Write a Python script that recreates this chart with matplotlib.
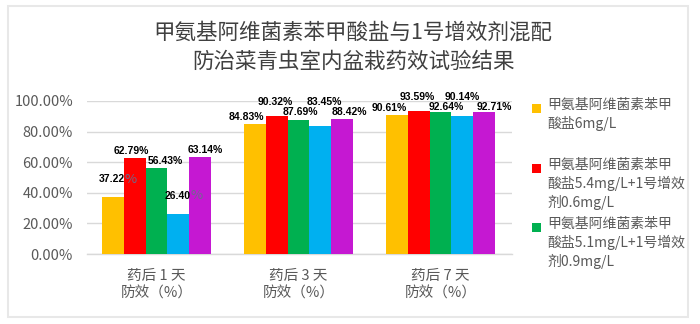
import numpy as np
import matplotlib
matplotlib.use('Agg')
import matplotlib.pyplot as plt
import matplotlib.patches as patches

plt.rcParams['font.family'] = ['Noto Sans CJK SC', 'DejaVu Sans']

title = "甲氨基阿维菌素苯甲酸盐与1号增效剂混配\n防治菜青虫室内盆栽药效试验结果"
groups = ["药后 1 天\n防效（%）", "药后 3 天\n防效（%）", "药后 7 天\n防效（%）"]
series_labels = [
    "甲氨基阿维菌素苯甲\n酸盐6mg/L",
    "甲氨基阿维菌素苯甲\n酸盐5.4mg/L+1号增效\n剂0.6mg/L",
    "甲氨基阿维菌素苯甲\n酸盐5.1mg/L+1号增效\n剂0.9mg/L",
]
colors = ["#FFC000", "#FF0000", "#00B050", "#00B0F0", "#C518D2"]

# control efficacy (%) per treatment, one row per series
values = [
    [37.22, 84.83, 90.61],
    [62.79, 90.32, 93.59],
    [56.43, 87.69, 92.64],
    [26.40, 83.45, 90.14],
    [63.14, 88.42, 92.71],
]

# label nudges in pixels (dx, dy) relative to the bar top centre
label_offsets = [
    [(2, 18), (-9, 7), (-8, 7)],
    [(-3, 7), (-2, 14), (-2, 14)],
    [(9, 7), (2, 8), (6, 5)],
    [(2, 18), (4, 24), (0, 19)],
    [(5, 7), (7, 7), (10, 5)],
]
# labels whose "%" sign was rendered separately
split_pct = {(0, 0), (3, 0)}

W, H = 700, 324
fig = plt.figure(figsize=(W / 100, H / 100), dpi=100)
fig.patch.set_facecolor('white')

# light frame round the chart
fig.patches.append(patches.Rectangle((8 / W, 1 - 317 / H), 680 / W, 311 / H,
                                     transform=fig.transFigure, fill=False,
                                     edgecolor='#E8E8E8', linewidth=1.5))

ax = fig.add_axes([87 / W, 1 - 254 / H, 425 / W, 153 / H])
n = len(values)
x = np.arange(len(groups))
bw = 0.1535
for i, (vals, col) in enumerate(zip(values, colors)):
    xs = x + (i - (n - 1) / 2) * bw
    ax.bar(xs, np.array(vals) / 100, width=bw, color=col, zorder=3)
    for j, (xx, v) in enumerate(zip(xs, vals)):
        dx, dy = label_offsets[i][j]
        if (i, j) in split_pct:
            ax.annotate(f"{v:.2f}", (xx, v / 100), xytext=(dx + 10, dy),
                        textcoords='offset pixels', ha='right', va='center',
                        fontsize=7.5, fontweight='bold', color='black',
                        family='Liberation Sans', zorder=5)
            ax.annotate("%", (xx, v / 100), xytext=(dx + 10, dy),
                        textcoords='offset pixels', ha='left', va='center',
                        fontsize=9.5, color='#6b6b8c', zorder=5)
        else:
            ax.annotate(f"{v:.2f}%", (xx, v / 100), xytext=(dx, dy),
                        textcoords='offset pixels', ha='center', va='center',
                        fontsize=7.5, fontweight='bold', color='black',
                        family='Liberation Sans', zorder=5)

ax.set_xlim(-0.49, 2.503)
ax.set_ylim(0, 1.0)
ax.set_yticks(np.arange(0, 1.01, 0.2))
ax.set_yticklabels([f"{t * 100:.2f}%" for t in np.arange(0, 1.01, 0.2)])
ax.set_xticks(x)
ax.set_xticklabels(groups, linespacing=1.25)
ax.tick_params(length=0, labelsize=10.5, labelcolor='#595959')
ax.tick_params(axis='y', pad=10)
ax.tick_params(axis='x', pad=11)
ax.grid(axis='y', color='#D9D9D9', linewidth=1, zorder=0)
for s in ['top', 'right', 'left']:
    ax.spines[s].set_visible(False)
ax.spines['bottom'].set_color('#D9D9D9')
ax.spines['bottom'].set_linewidth(1)

fig.text(353 / W, 1 - 47 / H, title, ha='center', va='center',
         fontsize=15.5, color='#404040', linespacing=1.45)

# legend drawn by hand so each marker sits on the first line of its label
leg_tops = [98, 158, 217]
for lab, col, top in zip(series_labels, colors[:3], leg_tops):
    fig.patches.append(patches.Rectangle((532 / W, 1 - (top + 15) / H), 9 / W, 9 / H,
                                         transform=fig.transFigure,
                                         facecolor=col, edgecolor='none'))
    fig.text(547 / W, 1 - top / H, lab, ha='left', va='top', fontsize=10,
             color='#595959', linespacing=1.3)

fig.savefig("out.png", dpi=100)
